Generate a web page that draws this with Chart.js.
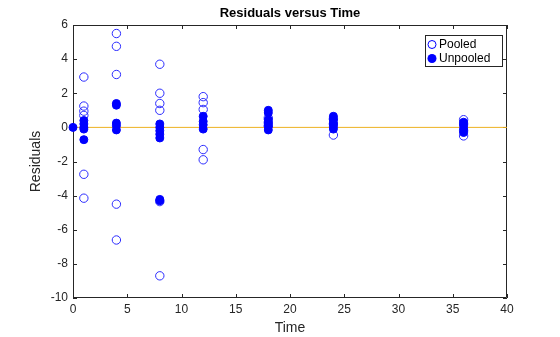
<!DOCTYPE html>
<html>
<head>
<meta charset="utf-8">
<script src="https://cdn.jsdelivr.net/npm/chart.js@4.4.0/dist/chart.umd.min.js"></script>
<style>
  html, body { margin: 0; padding: 0; background: #fff; }
  #wrap { width: 560px; height: 337px; }
</style>
</head>
<body>
<div id="wrap"><canvas id="myChart"></canvas></div>
<script>
// residuals, grouped by time
var pooledTime = [1, 1, 1, 1, 1, 1,
                  4, 4, 4, 4, 4,
                  8, 8, 8, 8, 8, 8,
                  12, 12, 12, 12, 12,
                  18, 18, 18,
                  24, 24, 24,
                  36, 36, 36, 36];
var pooledRes = [2.95, 1.25, 0.95, 0.7, -2.75, -4.15,
                 5.5, 4.75, 3.1, -4.5, -6.6,
                 3.7, 2.0, 1.4, 1.0, -4.35, -8.7,
                 1.8, 1.45, 1.05, -1.3, -1.9,
                 0.55, 0.3, 0.1,
                 0.5, 0.2, -0.45,
                 0.45, 0.2, -0.2, -0.5];

var unpooledTime = [0,
                    1, 1, 1, 1, 1,
                    4, 4, 4, 4, 4,
                    8, 8, 8, 8, 8, 8, 8,
                    12, 12, 12, 12,
                    18, 18, 18, 18, 18, 18,
                    24, 24, 24, 24, 24,
                    36, 36, 36, 36];
var unpooledRes = [0,
                   0.4, 0.2, 0.0, -0.1, -0.72,
                   1.4, 1.3, 0.25, 0.1, -0.15,
                   0.2, 0.0, -0.2, -0.4, -0.62, -4.22, -4.3,
                   0.65, 0.35, 0.15, -0.1,
                   1.0, 0.85, 0.45, 0.25, 0.05, -0.15,
                   0.65, 0.45, 0.25, 0.05, -0.1,
                   0.3, 0.1, -0.1, -0.3];

var xTicks = [0, 5, 10, 15, 20, 25, 30, 35, 40];
var yTicks = [-10, -8, -6, -4, -2, 0, 2, 4, 6];
var zeroLineX = [0, 40];
var zeroLineY = [0, 0];

function pts(xs, ys) {
    var out = [];
    for (let i = 0; i < xs.length; i++) out.push({x: xs[i], y: ys[i]});
    return out;
}

var FONT = '"Liberation Sans", Arial, sans-serif';

// box, inward ticks, title, axis labels and legend like the matlab figure
const decor = {
    id: 'decor',
    beforeDatasetsDraw(chart) {
        const c = chart.ctx, a = chart.chartArea;
        const xs = chart.scales.x, ys = chart.scales.y;
        c.save();
        c.strokeStyle = '#262626';
        c.lineWidth = 1;
        c.beginPath();
        c.rect(a.left + 0.5, a.top + 0.5, a.right - a.left - 1, a.bottom - a.top - 1);
        xTicks.forEach(function (v) {
            const px = Math.round(xs.getPixelForValue(v)) + 0.5;
            c.moveTo(px, a.bottom); c.lineTo(px, a.bottom - 4);
            c.moveTo(px, a.top); c.lineTo(px, a.top + 4);
        });
        yTicks.forEach(function (v) {
            const py = Math.round(ys.getPixelForValue(v)) + 0.5;
            c.moveTo(a.left, py); c.lineTo(a.left + 4, py);
            c.moveTo(a.right, py); c.lineTo(a.right - 4, py);
        });
        c.stroke();
        c.restore();
    },
    afterDraw(chart) {
        const c = chart.ctx, a = chart.chartArea;
        c.save();
        c.fillStyle = '#000';
        c.textAlign = 'center';
        c.textBaseline = 'middle';
        c.font = 'bold 13px ' + FONT;
        c.fillText('Residuals versus Time', (a.left + a.right) / 2, 13);
        c.fillStyle = '#262626';
        c.font = '14px ' + FONT;
        c.fillText('Time', (a.left + a.right) / 2, 328);
        c.translate(36, (a.top + a.bottom) / 2);
        c.rotate(-Math.PI / 2);
        c.fillText('Residuals', 0, 0);
        c.restore();

        // legend
        c.save();
        c.fillStyle = '#fff';
        c.fillRect(425, 35, 78, 32);
        c.strokeStyle = '#262626';
        c.lineWidth = 1;
        c.strokeRect(425.5, 35.5, 77, 31);
        c.strokeStyle = '#0000FF';
        c.beginPath();
        c.arc(432, 44.5, 4, 0, Math.PI * 2);
        c.stroke();
        c.fillStyle = '#0000FF';
        c.beginPath();
        c.arc(432, 58.5, 4.5, 0, Math.PI * 2);
        c.fill();
        c.fillStyle = '#000';
        c.font = '12px ' + FONT;
        c.textAlign = 'left';
        c.textBaseline = 'middle';
        c.fillText('Pooled', 439, 44.5);
        c.fillText('Unpooled', 439, 58.5);
        c.restore();
    }
};

const ctx = document.getElementById('myChart').getContext('2d');
const myChart = new Chart(ctx, {
    type: 'scatter',
    data: {
        datasets: [{
            label: 'Pooled',
            data: pts(pooledTime, pooledRes),
            backgroundColor: 'rgba(0,0,0,0)',
            borderColor: '#2b2bff',
            borderWidth: 1,
            pointRadius: 4.2,
            clip: false,
            order: 2
        },
        {
            label: 'Unpooled',
            data: pts(unpooledTime, unpooledRes),
            backgroundColor: '#0000FF',
            borderColor: '#0000FF',
            borderWidth: 1,
            pointRadius: 4,
            clip: false,
            order: 1
        },
        {
            label: 'zero',
            type: 'line',
            data: pts(zeroLineX, zeroLineY),
            borderColor: '#EDB120',
            borderWidth: 1,
            pointRadius: 0,
            fill: false,
            order: 3
        }]
    },
    options: {
        responsive: true,
        maintainAspectRatio: false,
        animation: false,
        layout: { padding: { top: 25, right: 53, left: 0, bottom: 0 } },
        plugins: {
            legend: { display: false },
            title: { display: false },
            tooltip: { enabled: false }
        },
        scales: {
            x: {
                type: 'linear',
                min: 0, max: 40,
                afterFit: function (s) { s.height = 39; },
                afterBuildTicks: function (s) { s.ticks = xTicks.map(function (v) { return {value: v}; }); },
                grid: { display: true, drawOnChartArea: false, drawTicks: false },
                border: { display: false },
                ticks: { color: '#262626', font: { family: FONT, size: 12 }, padding: 4, maxRotation: 0 }
            },
            y: {
                type: 'linear',
                min: -10, max: 6,
                afterFit: function (s) { s.width = 73; },
                afterBuildTicks: function (s) { s.ticks = yTicks.map(function (v) { return {value: v}; }); },
                grid: { display: true, drawOnChartArea: false, drawTicks: false },
                border: { display: false },
                ticks: { color: '#262626', font: { family: FONT, size: 12 }, padding: 5 }
            }
        }
    },
    plugins: [decor]
});
</script>
</body>
</html>
